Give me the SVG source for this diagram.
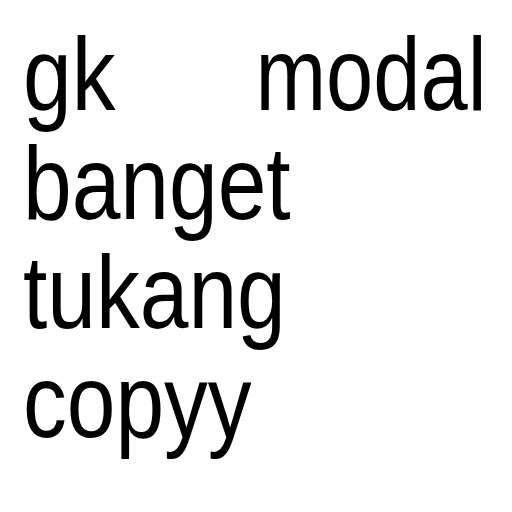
<svg xmlns="http://www.w3.org/2000/svg" width="512" height="512" viewBox="0 0 512 512">
<style>
text{font-family:"Liberation Sans",Arial,sans-serif;font-size:103px;fill:#000}
</style>
<rect width="512" height="512" fill="#fff"/>
<g transform="scale(0.85 1)">
<text x="27" y="110">gk</text>
<text x="572.5" y="110" text-anchor="end" textLength="272" lengthAdjust="spacingAndGlyphs">modal</text>
<text x="27" y="219">banget</text>
<text x="27" y="328">tukang</text>
<text x="27" y="437">copyy</text>
</g>
</svg>
